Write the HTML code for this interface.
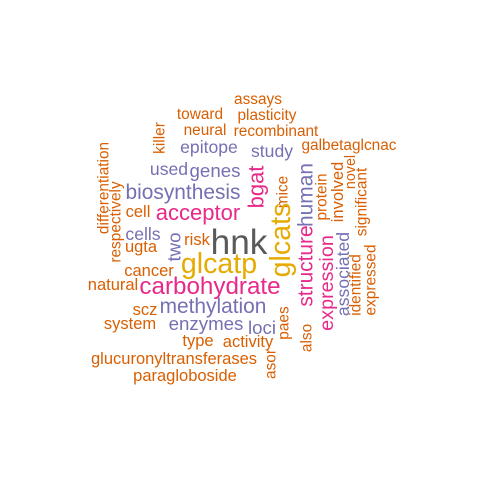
<!DOCTYPE html>
<html><head><meta charset="utf-8"><style>
html,body{margin:0;padding:0;background:#fff;}
svg text{font-family:"Liberation Sans",Arial,sans-serif;}
</style></head><body>
<svg id="cloud" width="480" height="480" viewBox="0 0 480 480"></svg>
<script>
const words=["assays","toward","plasticity","neural","recombinant","epitope","study","galbetaglcnac","used","genes","biosynthesis","cell","acceptor","cells","ugta","risk","hnk","glcatp","cancer","natural","carbohydrate","scz","methylation","system","enzymes","loci","type","activity","glucuronyltransferases","paragloboside","killer","differentiation","respectively","bgat","mice","glcats","human","structure","protein","involved","novel","significant","expression","associated","identified","expressed","two","paes","also","asor"];
const sizes=[14,14,14,14,14,16,16,14,16,17,19,15,20,16,15,15,32,26,15,15,22,15,19,15,17,17,15,15,15,15,14,14,14,20,14,26,19,19,14,15,13,14,18,16,14,14,17,14,14,14];
const colorIdx=[0,0,0,0,0,1,1,0,1,1,1,0,2,1,0,0,4,3,0,0,2,0,1,0,1,1,0,0,0,0,0,0,0,2,0,3,1,2,0,0,0,0,2,1,0,0,1,0,0,0];
const rotated=[0,0,0,0,0,0,0,0,0,0,0,0,0,0,0,0,0,0,0,0,0,0,0,0,0,0,0,0,0,0,1,1,1,1,1,1,1,1,1,1,1,1,1,1,1,1,1,1,1,1];
const posX=[258,200,267,205,276,209,272,349,169,215,183,138,198,143,141,197,239,219,149,113,210,145,213,130,206,262,198,248,174,185,160,104,116,256,283,281,306,306,322,338,351,362,327,343,356,371,174,284,307,271];
const posY=[104,119,120,135,136,153,157,150,175,177,199,217,220,240,252,245,254,273,276,290,294,315,313,329,330,334,346,347,364,381,138,188,222,187,192,240,195,266,197,192,172,202,283,274,285,280,247,323,338,364];
const palette=["#D95F02","#7570B3","#E7298A","#E6AB02","#5a5a5a"];
const SCALE=1.1;
const svg=document.getElementById('cloud');
const NS="http://www.w3.org/2000/svg";
for(let i=0;i<words.length;i++){
  const t=document.createElementNS(NS,'text');
  t.textContent=words[i];
  t.setAttribute('font-size',(sizes[i]*SCALE).toFixed(1));
  t.setAttribute('fill',palette[colorIdx[i]]);
  t.setAttribute('text-anchor','middle');
  if(rotated[i]){
    t.setAttribute('dominant-baseline','central');
    t.setAttribute('transform','translate('+posX[i]+','+posY[i]+') rotate(-90)');
  }else{
    t.setAttribute('x',posX[i]);
    t.setAttribute('y',posY[i]);
  }
  
  
  svg.appendChild(t);
}
</script>
</body></html>
